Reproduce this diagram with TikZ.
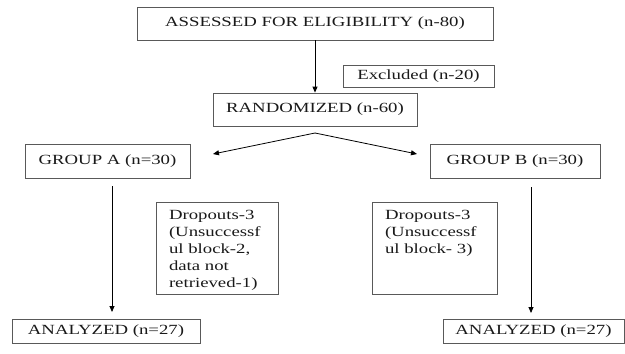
\documentclass[tikz,border=0pt]{standalone}
\usepackage{fontspec}
\setmainfont[FakeStretch=1.34]{Liberation Serif}
\usetikzlibrary{arrows.meta}
\begin{document}
\begin{tikzpicture}[x=1pt,y=-1pt,
  box/.style={draw=black!65, line width=0.8pt, inner sep=0pt, font=\fontsize{14}{17}\selectfont, text=black!90},
  arr/.style={draw=black, line width=0.8pt, -{Triangle[length=6pt,width=5pt]}}]
\useasboundingbox (0,0) rectangle (625,354);
\node[box, minimum width=356pt, minimum height=33pt] (top) at (315,23.5) {ASSESSED FOR ELIGIBILITY (n-80)};
\node[box, minimum width=151pt, minimum height=22pt] (excl) at (418.5,76) {Excluded (n-20)};
\node[box, minimum width=204pt, minimum height=33pt] (rand) at (315,109.5) {RANDOMIZED (n-60)};
\node[box, minimum width=165pt, minimum height=34pt] (grpA) at (107.5,161) {GROUP A (n=30)};
\node[box, minimum width=170pt, minimum height=34pt] (grpB) at (515,161) {GROUP B (n=30)};
\node[box, inner xsep=13pt] (dropA) at (217,248) {\parbox[c][92pt][t]{96pt}{\vspace*{8pt}\raggedright Dropouts-3\\(Unsuccessf\\ul block-2,\\data not\\retrieved-1)}};
\node[box, inner xsep=13pt] (dropB) at (434.5,248) {\parbox[c][92pt][t]{99pt}{\vspace*{8pt}\raggedright Dropouts-3\\(Unsuccessf\\ul block- 3)}};
\node[box, minimum width=188pt, minimum height=24pt] (anaA) at (106,331) {ANALYZED (n=27)};
\node[box, minimum width=181pt, minimum height=24pt] (anaB) at (533.5,331) {ANALYZED (n=27)};
\draw[arr] (top.south) -- (rand.north);
\coordinate (apex) at (315,133);
\coordinate (tipA) at (213,154);
\coordinate (tipB) at (417,154);
\draw[arr] (apex) -- (tipA);
\draw[arr] (apex) -- (tipB);
\coordinate (a1) at (112,186);
\coordinate (a2) at (112,312);
\coordinate (b1) at (531,187);
\coordinate (b2) at (531,313);
\draw[arr] (a1) -- (a2);
\draw[arr] (b1) -- (b2);
\end{tikzpicture}
\end{document}
